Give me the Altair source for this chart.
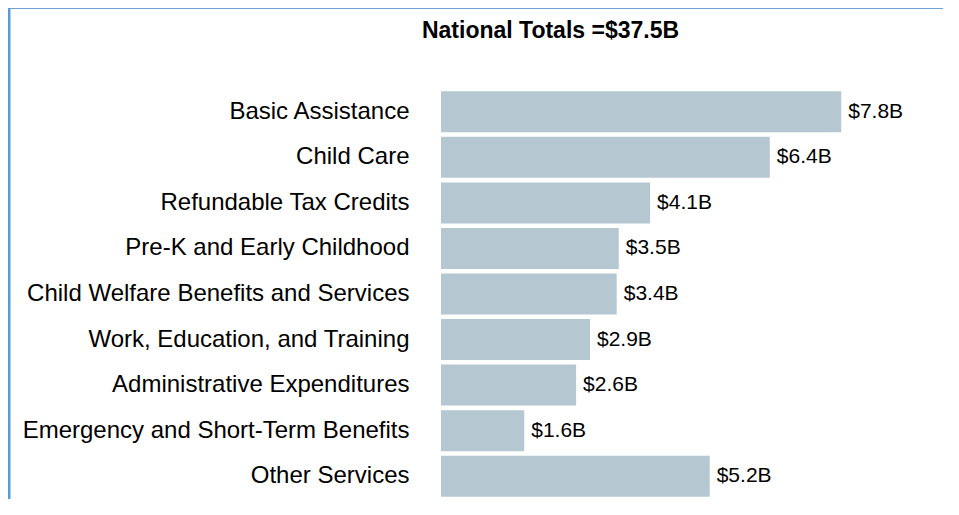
import altair as alt
import pandas as pd

categories = [
    "Basic Assistance",
    "Child Care",
    "Refundable Tax Credits",
    "Pre-K and Early Childhood",
    "Child Welfare Benefits and Services",
    "Work, Education, and Training",
    "Administrative Expenditures",
    "Emergency and Short-Term Benefits",
    "Other Services",
]
values = [7.79, 6.40, 4.07, 3.46, 3.42, 2.90, 2.63, 1.62, 5.23]
value_labels = ["$7.8B", "$6.4B", "$4.1B", "$3.5B", "$3.4B", "$2.9B", "$2.6B", "$1.6B", "$5.2B"]
title_text = "National Totals =$37.5B"

df = pd.DataFrame({"category": categories, "value": values, "label": value_labels})

FONT = "Liberation Sans"

y_enc = alt.Y(
    "category:N",
    sort=categories,
    scale=alt.Scale(paddingInner=0.1, paddingOuter=0.05),
    axis=alt.Axis(
        title=None, ticks=False, tickSize=0, domain=False, grid=False,
        labelFontSize=24, labelFont=FONT, labelColor="#000000",
        labelPadding=32, labelLimit=500,
    ),
)
x_enc = alt.X(
    "value:Q",
    scale=alt.Scale(domain=[0, 8], nice=False),
    axis=None,
)

bars = alt.Chart(df).mark_bar(color="#b5c7d1").encode(x=x_enc, y=y_enc)
texts = alt.Chart(df).mark_text(
    align="left", baseline="middle", dx=7, fontSize=21, font=FONT, color="#000000"
).encode(x=x_enc, y=y_enc, text="label:N")

border_df = pd.DataFrame({"a": [0]})
top_line = alt.Chart(border_df).mark_rule(color="#6fa3d8", strokeWidth=2).encode(
    x=alt.value(-433), x2=alt.value(520), y=alt.value(-81)
)
left_line = alt.Chart(border_df).mark_rule(color="#5b9bd5", strokeWidth=3).encode(
    x=alt.value(-432), y=alt.value(-82), y2=alt.value(420)
)

chart = alt.layer(top_line, left_line, bars, texts).properties(
    width=411,
    height=410,
    title=alt.TitleParams(
        title_text, fontSize=23, font=FONT, fontWeight="bold", color="#000000",
        anchor="middle", frame="group", dx=-96, dy=55, baseline="alphabetic", offset=0,
    ),
    autosize=alt.AutoSizeParams(type="none"),
    padding={"left": 433, "top": 81, "right": 91, "bottom": 0},
).configure_view(stroke=None)

chart.save("out.html", embed_options={"renderer": "svg", "actions": False})
